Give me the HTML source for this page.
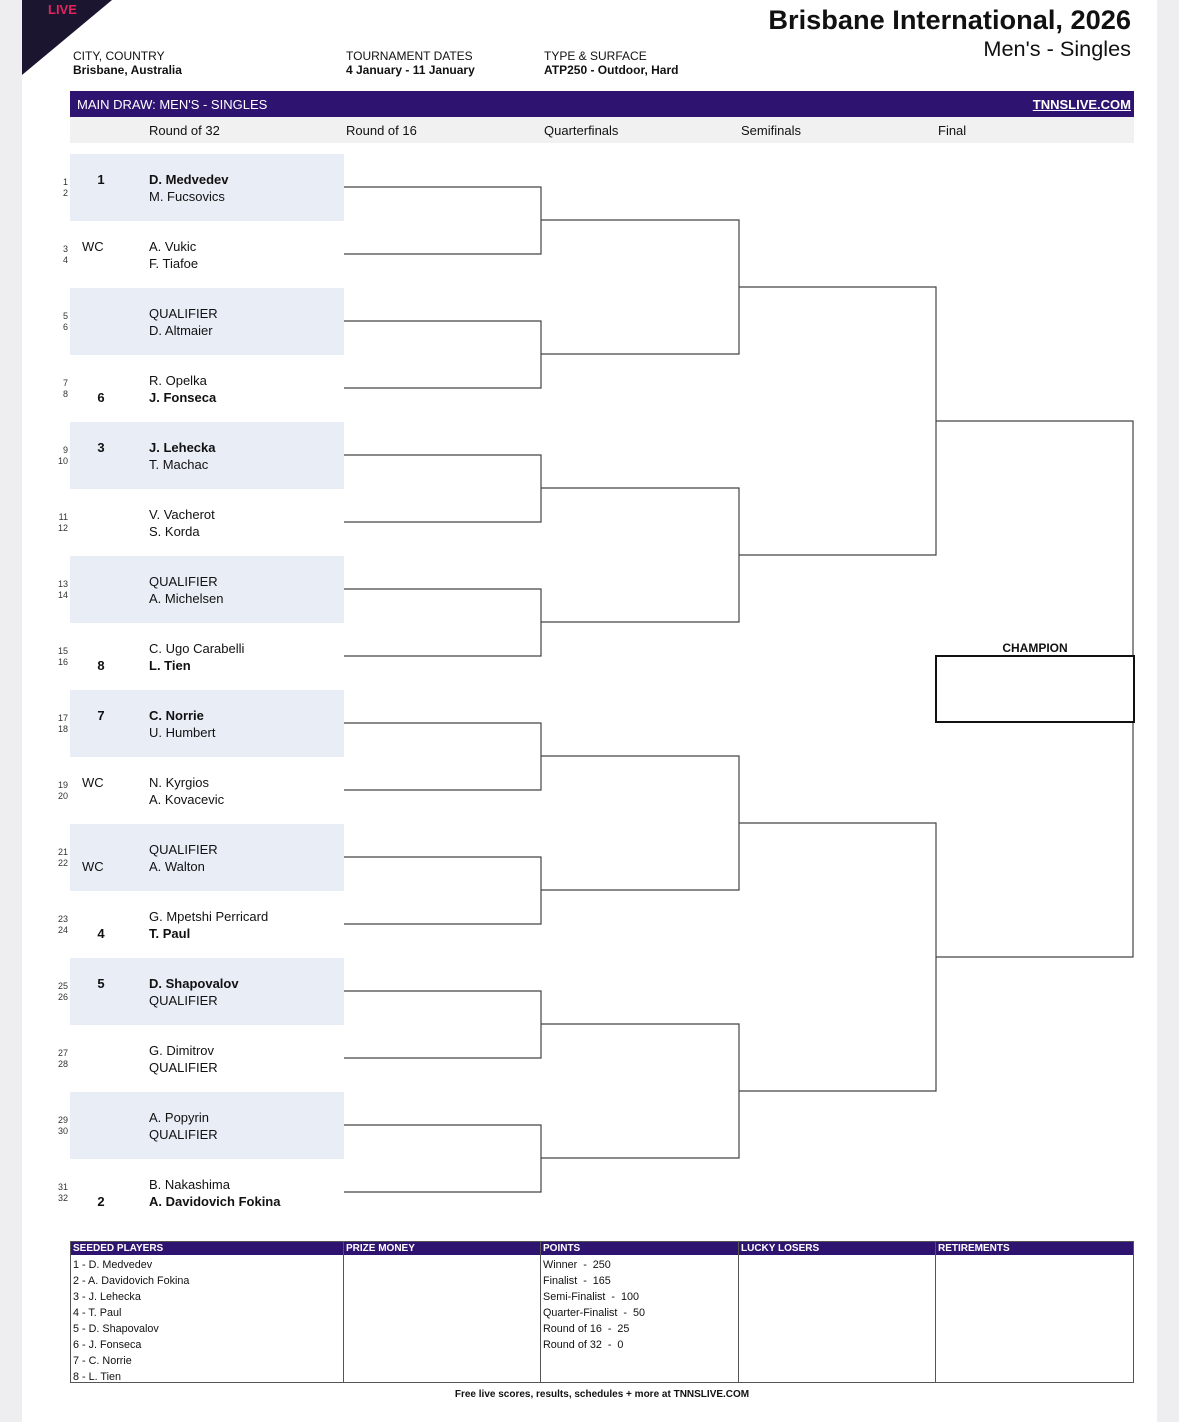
<!DOCTYPE html>
<html><head><meta charset="utf-8"><style>
*{margin:0;padding:0;box-sizing:border-box}
body{width:1179px;height:1422px;background:#eeeef1;font-family:"Liberation Sans",Arial,sans-serif;color:#111;position:relative;overflow:hidden}
.page{position:absolute;left:22px;top:0;width:1135px;height:1422px;background:#fff}
.a{position:absolute;white-space:nowrap}
.m{position:absolute;left:70px;width:274px;height:67px}
.s{background:#e9edf6}
.r{position:absolute;height:17px;line-height:17px;font-size:13px}
.sd{position:absolute;left:20px;width:22px;text-align:center;font-weight:bold;font-size:13px;line-height:17px}
.wc{position:absolute;left:12px;font-size:13px;line-height:17px}
.nm{position:absolute;left:79px;font-size:13px;line-height:17px}
.b{font-weight:bold}
.n{position:absolute;left:-22px;width:20px;text-align:right;font-size:9px;color:#333;line-height:10px}
.hdr{font-size:12px;color:#111}
.tb{position:absolute;top:1241px;height:142px;border:1px solid #555;border-left:none}
.th{background:#2e1470;color:#fff;font-weight:bold;font-size:10px;height:13px;line-height:13px;padding-left:2px}
.tl{font-size:10.8px;line-height:16px;padding-left:2px;padding-top:2px}
</style></head><body>
<div class="page"></div>
<svg class="a" style="left:0;top:0" width="1179" height="1422">
<polygon points="22,0 112,0 22,75" fill="#1b1530"/>
<g stroke="#444" stroke-width="1.2" fill="none">
<path d="M344,187H541V254H344M344,321H541V388H344M344,455H541V522H344M344,589H541V656H344M344,723H541V790H344M344,857H541V924H344M344,991H541V1058H344M344,1125H541V1192H344"/>
<path d="M541,220H739V354H541M541,488H739V622H541M541,756H739V890H541M541,1024H739V1158H541"/>
<path d="M739,287H936V555H739M739,823H936V1091H739"/>
<path d="M936,421H1133V957H936"/>
</g>
<rect x="936" y="656" width="198" height="66" fill="#fff" stroke="#111" stroke-width="2"/>
</svg>
<div class="a b" style="left:48px;top:2px;color:#e0245e;font-size:13px">LIVE</div>
<div class="a b" style="right:48px;top:4px;font-size:27.2px">Brisbane International, 2026</div>
<div class="a" style="right:48px;top:36px;font-size:21.7px">Men's - Singles</div>
<div class="a hdr" style="left:73px;top:49px">CITY, COUNTRY<br><b>Brisbane, Australia</b></div>
<div class="a hdr" style="left:346px;top:49px">TOURNAMENT DATES<br><b>4 January - 11 January</b></div>
<div class="a hdr" style="left:544px;top:49px">TYPE &amp; SURFACE<br><b>ATP250 - Outdoor, Hard</b></div>
<div class="a" style="left:70px;top:91px;width:1064px;height:26px;background:#2e1470;color:#fff;font-size:13px;line-height:27px;padding-left:7px">MAIN DRAW: MEN'S - SINGLES<span style="position:absolute;right:3px;font-weight:bold;text-decoration:underline">TNNSLIVE.COM</span></div>
<div class="a" style="left:70px;top:117px;width:1064px;height:26px;background:#f1f1f1;font-size:13px;line-height:27px">
<span class="a" style="left:79px">Round of 32</span><span class="a" style="left:276px">Round of 16</span><span class="a" style="left:474px">Quarterfinals</span><span class="a" style="left:671px">Semifinals</span><span class="a" style="left:868px">Final</span></div>

<div class="m s" style="top:154px"><div class="n" style="top:23px">1</div><div class="n" style="top:34px">2</div><div class="sd" style="top:17px">1</div><div class="nm b" style="top:17px">D. Medvedev</div><div class="nm" style="top:34px">M. Fucsovics</div></div>
<div class="m" style="top:221px"><div class="n" style="top:23px">3</div><div class="n" style="top:34px">4</div><div class="wc" style="top:17px">WC</div><div class="nm" style="top:17px">A. Vukic</div><div class="nm" style="top:34px">F. Tiafoe</div></div>
<div class="m s" style="top:288px"><div class="n" style="top:23px">5</div><div class="n" style="top:34px">6</div><div class="nm" style="top:17px">QUALIFIER</div><div class="nm" style="top:34px">D. Altmaier</div></div>
<div class="m" style="top:355px"><div class="n" style="top:23px">7</div><div class="n" style="top:34px">8</div><div class="sd" style="top:34px">6</div><div class="nm" style="top:17px">R. Opelka</div><div class="nm b" style="top:34px">J. Fonseca</div></div>
<div class="m s" style="top:422px"><div class="n" style="top:23px">9</div><div class="n" style="top:34px">10</div><div class="sd" style="top:17px">3</div><div class="nm b" style="top:17px">J. Lehecka</div><div class="nm" style="top:34px">T. Machac</div></div>
<div class="m" style="top:489px"><div class="n" style="top:23px">11</div><div class="n" style="top:34px">12</div><div class="nm" style="top:17px">V. Vacherot</div><div class="nm" style="top:34px">S. Korda</div></div>
<div class="m s" style="top:556px"><div class="n" style="top:23px">13</div><div class="n" style="top:34px">14</div><div class="nm" style="top:17px">QUALIFIER</div><div class="nm" style="top:34px">A. Michelsen</div></div>
<div class="m" style="top:623px"><div class="n" style="top:23px">15</div><div class="n" style="top:34px">16</div><div class="sd" style="top:34px">8</div><div class="nm" style="top:17px">C. Ugo Carabelli</div><div class="nm b" style="top:34px">L. Tien</div></div>
<div class="m s" style="top:690px"><div class="n" style="top:23px">17</div><div class="n" style="top:34px">18</div><div class="sd" style="top:17px">7</div><div class="nm b" style="top:17px">C. Norrie</div><div class="nm" style="top:34px">U. Humbert</div></div>
<div class="m" style="top:757px"><div class="n" style="top:23px">19</div><div class="n" style="top:34px">20</div><div class="wc" style="top:17px">WC</div><div class="nm" style="top:17px">N. Kyrgios</div><div class="nm" style="top:34px">A. Kovacevic</div></div>
<div class="m s" style="top:824px"><div class="n" style="top:23px">21</div><div class="n" style="top:34px">22</div><div class="wc" style="top:34px">WC</div><div class="nm" style="top:17px">QUALIFIER</div><div class="nm" style="top:34px">A. Walton</div></div>
<div class="m" style="top:891px"><div class="n" style="top:23px">23</div><div class="n" style="top:34px">24</div><div class="sd" style="top:34px">4</div><div class="nm" style="top:17px">G. Mpetshi Perricard</div><div class="nm b" style="top:34px">T. Paul</div></div>
<div class="m s" style="top:958px"><div class="n" style="top:23px">25</div><div class="n" style="top:34px">26</div><div class="sd" style="top:17px">5</div><div class="nm b" style="top:17px">D. Shapovalov</div><div class="nm" style="top:34px">QUALIFIER</div></div>
<div class="m" style="top:1025px"><div class="n" style="top:23px">27</div><div class="n" style="top:34px">28</div><div class="nm" style="top:17px">G. Dimitrov</div><div class="nm" style="top:34px">QUALIFIER</div></div>
<div class="m s" style="top:1092px"><div class="n" style="top:23px">29</div><div class="n" style="top:34px">30</div><div class="nm" style="top:17px">A. Popyrin</div><div class="nm" style="top:34px">QUALIFIER</div></div>
<div class="m" style="top:1159px"><div class="n" style="top:23px">31</div><div class="n" style="top:34px">32</div><div class="sd" style="top:34px">2</div><div class="nm" style="top:17px">B. Nakashima</div><div class="nm b" style="top:34px">A. Davidovich Fokina</div></div>

<div class="a b" style="left:936px;top:641px;width:198px;text-align:center;font-size:12px">CHAMPION</div>

<div class="tb" style="left:70px;width:274px;border-left:1px solid #555"><div class="th">SEEDED PLAYERS</div><div class="tl">1 - D. Medvedev<br>2 - A. Davidovich Fokina<br>3 - J. Lehecka<br>4 - T. Paul<br>5 - D. Shapovalov<br>6 - J. Fonseca<br>7 - C. Norrie<br>8 - L. Tien</div></div>
<div class="tb" style="left:344px;width:197px"><div class="th">PRIZE MONEY</div></div>
<div class="tb" style="left:541px;width:198px"><div class="th">POINTS</div><div class="tl">Winner &nbsp;- &nbsp;250<br>Finalist &nbsp;- &nbsp;165<br>Semi-Finalist &nbsp;- &nbsp;100<br>Quarter-Finalist &nbsp;- &nbsp;50<br>Round of 16 &nbsp;- &nbsp;25<br>Round of 32 &nbsp;- &nbsp;0</div></div>
<div class="tb" style="left:739px;width:197px"><div class="th">LUCKY LOSERS</div></div>
<div class="tb" style="left:936px;width:198px"><div class="th">RETIREMENTS</div></div>
<div class="a b" style="left:70px;top:1389px;width:1064px;text-align:center;font-size:10px">Free live scores, results, schedules + more at TNNSLIVE.COM</div>
</body></html>
